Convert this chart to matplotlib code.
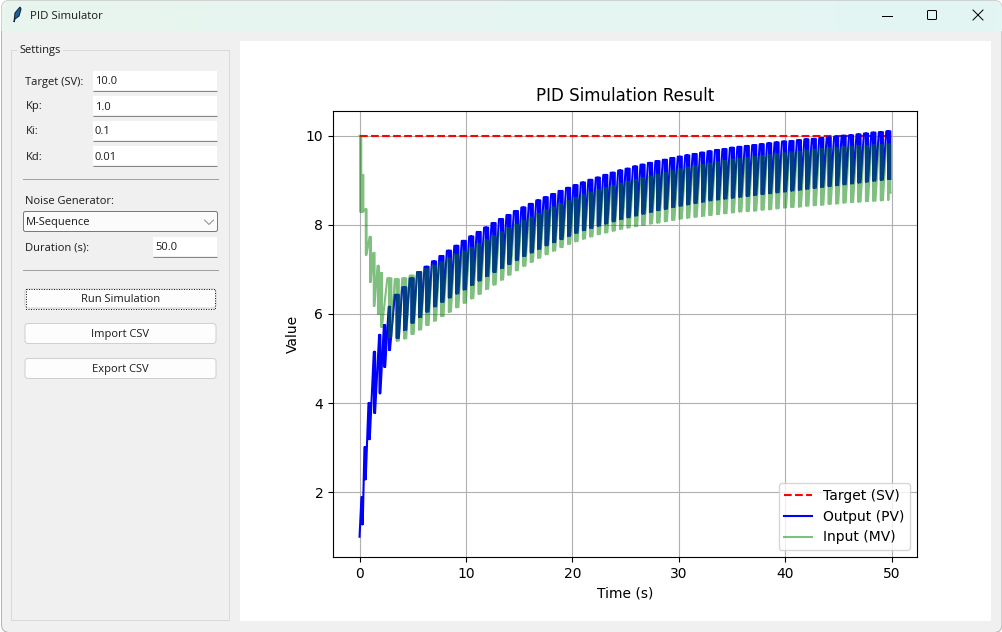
import matplotlib
matplotlib.use("Agg")
import matplotlib.pyplot as plt
from matplotlib.patches import FancyBboxPatch, Rectangle, Polygon
from matplotlib.colors import LinearSegmentedColormap
import numpy as np

# Chart values
target_sv = 10.0
end_time = 49.9

pv_start = 1.0
pv_centers = [0.24, 0.52, 0.9, 1.4, 1.9, 2.35, 2.8, 3.5, 4.2, 4.9, 5.6, 6.3, 7.0, 7.7, 8.4, 9.1, 9.8, 10.5,
              11.2, 11.9, 12.6, 13.3, 14.0, 14.7, 15.4, 16.1, 16.8, 17.5, 18.2, 18.9, 19.6, 20.3, 21.0, 21.7,
              22.4, 23.1, 23.8, 24.5, 25.2, 25.9, 26.6, 27.3, 28.0, 28.7, 29.4, 30.1, 30.8, 31.5, 32.2, 32.9,
              33.6, 34.3, 35.0, 35.7, 36.4, 37.1, 37.8, 38.5, 39.2, 39.9, 40.6, 41.3, 42.0, 42.7, 43.4, 44.1,
              44.8, 45.5, 46.2, 46.9, 47.6, 48.3, 49.0, 49.7]
pv_high = [1.89, 3.01, 4.0, 5.15, 5.53, 5.75, 6.16, 6.43, 6.6, 6.8, 6.94, 7.06, 7.18, 7.3, 7.42, 7.53, 7.64, 7.74,
           7.84, 7.94, 8.04, 8.13, 8.22, 8.31, 8.39, 8.47, 8.55, 8.62, 8.69, 8.76, 8.83, 8.89, 8.95, 9.01,
           9.06, 9.12, 9.17, 9.22, 9.26, 9.31, 9.35, 9.39, 9.43, 9.46, 9.5, 9.53, 9.56, 9.59, 9.62, 9.65,
           9.68, 9.7, 9.73, 9.75, 9.77, 9.79, 9.81, 9.83, 9.85, 9.87, 9.88, 9.9, 9.92, 9.93, 9.95, 9.96,
           9.98, 10.0, 10.01, 10.03, 10.05, 10.07, 10.08, 10.1]
pv_low = [1.28, 2.29, 3.19, 3.78, 4.22, 4.81, 5.19, 5.46, 5.64, 5.8, 5.93, 6.05, 6.17, 6.27, 6.37, 6.46, 6.55, 6.65,
          6.75, 6.85, 6.94, 7.03, 7.12, 7.21, 7.3, 7.38, 7.46, 7.54, 7.61, 7.68, 7.75, 7.82, 7.88, 7.93,
          7.98, 8.03, 8.08, 8.13, 8.17, 8.21, 8.25, 8.29, 8.33, 8.36, 8.4, 8.43, 8.46, 8.49, 8.52, 8.55,
          8.57, 8.59, 8.61, 8.63, 8.65, 8.67, 8.69, 8.71, 8.73, 8.75, 8.77, 8.79, 8.81, 8.83, 8.85, 8.87,
          8.89, 8.91, 8.93, 8.95, 8.97, 8.99, 9.01, 9.03]

mv_start = 10.0
mv_end = 8.72
mv_centers = [0.1, 0.3, 0.6, 1.0, 1.35, 1.75, 2.05, 2.8, 3.5, 4.2, 4.9, 5.6, 6.3, 7.0, 7.7, 8.4, 9.1, 9.8, 10.5,
              11.2, 11.9, 12.6, 13.3, 14.0, 14.7, 15.4, 16.1, 16.8, 17.5, 18.2, 18.9, 19.6, 20.3, 21.0, 21.7,
              22.4, 23.1, 23.8, 24.5, 25.2, 25.9, 26.6, 27.3, 28.0, 28.7, 29.4, 30.1, 30.8, 31.5, 32.2, 32.9,
              33.6, 34.3, 35.0, 35.7, 36.4, 37.1, 37.8, 38.5, 39.2, 39.9, 40.6, 41.3, 42.0, 42.7, 43.4, 44.1,
              44.8, 45.5, 46.2, 46.9, 47.6, 48.3, 49.0, 49.7]
mv_high = [9.98, 9.12, 8.35, 7.73, 7.37, 7.08, 6.92, 6.8, 6.78, 6.8, 6.86, 6.94, 7.0, 7.08, 7.16, 7.24, 7.32, 7.4, 7.48,
           7.56, 7.65, 7.74, 7.83, 7.92, 8.0, 8.08, 8.16, 8.24, 8.32, 8.39, 8.46, 8.53, 8.6, 8.66, 8.72,
           8.77, 8.82, 8.87, 8.92, 8.96, 9.0, 9.04, 9.08, 9.12, 9.16, 9.2, 9.24, 9.28, 9.31, 9.34, 9.37,
           9.4, 9.43, 9.46, 9.48, 9.5, 9.52, 9.54, 9.56, 9.58, 9.6, 9.62, 9.64, 9.66, 9.68, 9.7, 9.72,
           9.73, 9.74, 9.75, 9.76, 9.77, 9.78, 9.79, 9.8]
mv_low = [8.29, 8.3, 7.33, 6.72, 6.18, 6.0, 5.71, 5.48, 5.4, 5.45, 5.55, 5.65, 5.75, 5.85, 5.95, 6.05, 6.15, 6.25, 6.35,
          6.45, 6.56, 6.66, 6.77, 6.88, 6.98, 7.08, 7.17, 7.26, 7.34, 7.42, 7.5, 7.57, 7.63, 7.69, 7.74,
          7.79, 7.83, 7.87, 7.91, 7.94, 7.97, 8.0, 8.03, 8.05, 8.08, 8.11, 8.14, 8.16, 8.18, 8.2, 8.22,
          8.24, 8.26, 8.28, 8.3, 8.31, 8.32, 8.34, 8.35, 8.37, 8.39, 8.4, 8.41, 8.43, 8.44, 8.45, 8.47,
          8.48, 8.5, 8.51, 8.52, 8.53, 8.54, 8.55, 8.56]

tooth_half = 0.19
early_half = 0.06
early_teeth = 7


def square_path(start, centers, highs, lows):
    # each tooth is three up/down strokes side by side, so it reads as a solid block
    xs = [0.0]
    ys = [start]
    for i, (c, hi, lo) in enumerate(zip(centers, highs, lows)):
        half = early_half if i < early_teeth else tooth_half
        left = max(c - half, 0.0)
        right = c + half
        xs += [left, c, c, c, right, right]
        ys += [hi, hi, lo, hi, hi, lo]
    return xs, ys


W, H = 1002, 632
fig = plt.figure(figsize=(W / 100, H / 100), dpi=100, facecolor="white")

# Window chrome, drawn in pixel coordinates
ui = fig.add_axes([0, 0, 1, 1], zorder=0)
ui.set_xlim(0, W)
ui.set_ylim(H, 0)
ui.axis("off")

UI_FONT = ["Open Sans", "DejaVu Sans"]
UI_SIZE = 8
THIN = 0.72


def label(x, y, s, ha="left", color="#1a1a1a", size=UI_SIZE):
    ui.text(x, y, s, ha=ha, va="center", family=UI_FONT, fontsize=size, color=color, zorder=5)


def entry(x0, y0, x1, y1, s):
    ui.add_patch(Rectangle((x0, y0), x1 - x0, y1 - y0, fc="white", ec="none", zorder=3))
    ui.plot([x0, x1], [y1 + 0.5, y1 + 0.5], color="#858585", lw=THIN, solid_capstyle="butt", zorder=3)
    label(x0 + 2, y0 + 11, s)


def button(y0, y1, s, focus=False):
    ui.add_patch(FancyBboxPatch((25, y0 + 1), 191, y1 - y0 - 2, boxstyle="round,pad=0,rounding_size=3",
                                fc="#fdfdfd", ec="#d0d0d0", lw=THIN, zorder=3))
    if focus:
        ui.add_patch(Rectangle((26, y0 + 0.5), 189, y1 - y0 - 1, fc="none", ec="#222222", lw=THIN, ls=(0, (1, 1.5)),
                               zorder=3))
    label(120.5, (y0 + y1) / 2 + 1, s, ha="center")


body = FancyBboxPatch((1.5, 0.5), W - 1.5, H, boxstyle="round,pad=0,rounding_size=8", fc="#f0f0f0", ec="#b4b4b4", lw=THIN, zorder=1)
ui.add_patch(body)

# title bar with its faint gradient
bar_cmap = LinearSegmentedColormap.from_list("bar", ["#e9f5ef", "#e3f6f4"])
bar = ui.imshow(np.linspace(0, 1, 256).reshape(1, -1), extent=(1.5, W, 31, 0.5), aspect="auto", cmap=bar_cmap, zorder=2)
bar.set_clip_path(body)
ui.set_xlim(0, W)
ui.set_ylim(H, 0)

ui.add_patch(Polygon([(14, 22), (15, 13), (20, 7), (21, 9), (19, 16), (15, 19)], fc="#1f5f9e", ec="#14283c", lw=0.8, zorder=3))
label(30, 16.5, "PID Simulator", size=8.2)
ui.plot([882, 892], [15.5, 15.5], color="black", lw=THIN, zorder=3)
ui.add_patch(FancyBboxPatch((927.5, 10.5), 9, 9, boxstyle="round,pad=0,rounding_size=1", fc="none", ec="black", lw=THIN, zorder=3))
ui.plot([973, 983], [10, 20], color="black", lw=THIN, zorder=3)
ui.plot([973, 983], [20, 10], color="black", lw=THIN, zorder=3)

# Settings frame
ui.add_patch(Rectangle((11.5, 49.5), 218, 570, fc="none", ec="#d9d9d9", lw=THIN, zorder=3))
ui.add_patch(Rectangle((17, 44), 46, 10, fc="#f0f0f0", ec="none", zorder=3))
label(19, 50.5, "Settings")

for y, name, value in [(71, "Target (SV):", "10.0"), (96, "Kp:", "1.0"), (121, "Ki:", "0.1"), (146, "Kd:", "0.01")]:
    label(25.5, y + 11, name)
    entry(93, y, 217, y + 19, value)

ui.plot([23, 218], [178.5, 178.5], color="#a0a0a0", lw=THIN, zorder=3)
label(25.5, 201, "Noise Generator:")
ui.add_patch(FancyBboxPatch((23.5, 211.5), 194, 20, boxstyle="round,pad=0,rounding_size=2", fc="#fbfbfb", ec="#7a7a7a", lw=THIN, zorder=3))
label(26, 223, "M-Sequence")
ui.plot([204.5, 209, 213.5], [220, 224.5, 220], color="#777777", lw=0.6, zorder=3)
label(25.5, 248, "Duration (s):")
entry(153, 237, 217, 256, "50.0")
ui.plot([23, 218], [269.5, 269.5], color="#a0a0a0", lw=THIN, zorder=3)

button(288, 309, "Run Simulation", focus=True)
button(322.5, 344.5, "Import CSV")
button(357.5, 379.5, "Export CSV")

# white panel that holds the chart
ui.add_patch(Rectangle((240, 41), 751, 580, fc="white", ec="none", zorder=3))

# The chart itself
ax = fig.add_axes([333 / W, 1 - 557 / H, 584 / W, 446 / H], zorder=1)
ax.plot([0.0, end_time], [target_sv, target_sv], color="red", linestyle="--", label="Target (SV)")
pv_x, pv_y = square_path(pv_start, pv_centers, pv_high, pv_low)
ax.plot(pv_x, pv_y, color="blue", label="Output (PV)")
mv_x, mv_y = square_path(mv_start, mv_centers, mv_high, mv_low)
ax.plot(mv_x + [end_time], mv_y[:-1] + [mv_end, mv_end], color="green", alpha=0.5, label="Input (MV)")
ax.set_title("PID Simulation Result", pad=7)
ax.set_xlabel("Time (s)")
ax.set_ylabel("Value")
ax.grid(True)
ax.legend(loc="lower right")

fig.savefig("out.png", dpi=100)
